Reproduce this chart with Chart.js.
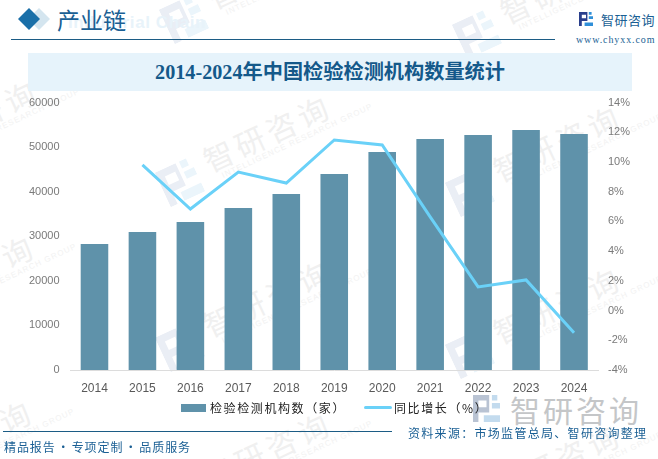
<!DOCTYPE html>
<html>
<head>
<meta charset="utf-8">
<script src="https://cdn.jsdelivr.net/npm/chart.js@4/dist/chart.umd.min.js"></script>
<style>
html, body { margin: 0; padding: 0; background: #fff; }
body { width: 658px; height: 459px; position: relative; overflow: hidden; font-family: "Noto Sans CJK SC", sans-serif; }
#myChart { position: absolute; left: 0; top: 0; }
.abs { position: absolute; white-space: nowrap; }
.wm { position: absolute; white-space: nowrap; color: #f0f0f0; font-size: 30px; letter-spacing: 4.6px; transform: rotate(-25deg); transform-origin: 15px 15px; line-height: 30px; }
.wm small { display: block; font-size: 8px; line-height: 12px; letter-spacing: 1.1px; font-family: "Liberation Sans"; margin-left: 10px; color: #f2f2f2; }
.wmlogo { position: absolute; width: 38px; height: 38px; transform: rotate(-25deg); }
#titleBar { left: 28px; top: 53px; width: 604px; height: 38px; background: #e6f3fb; }
#title { left: 28px; top: 53px; width: 604px; height: 38px; line-height: 39px; text-align: center; color: #14598a; font-size: 20.2px; font-weight: bold; font-family: "Liberation Serif", "Noto Sans CJK SC", serif; }
.legend { top: 399px; font-size: 12px; letter-spacing: 1.6px; color: #222; line-height: 17px; }
</style>
</head>
<body>
<div id="marks"></div>
<span class="abs" style="left:68px;top:13px;font:bold 17px 'Liberation Sans';color:#e8f3fa;letter-spacing:.6px">Industrial Chain</span>

<svg class="abs" style="left:18px;top:7px" width="34" height="24" viewBox="0 0 34 24">
  <path fill="#d4e5ef" d="M21 1l11 11-11 11-11-11z"/>
  <path fill="#1a6fa8" d="M11 1l11 11-11 11L0 12z"/>
</svg>
<span class="abs" style="left:57px;top:4px;font-size:23px;line-height:30px;color:#1a5f94">产业链</span>
<div class="abs" style="left:11px;top:39px;width:544px;height:1px;background:#1c5c85"></div>

<svg class="abs" style="left:579px;top:12px" width="14" height="14" viewBox="0 0 20 20"><path fill="#2a3f8c" d="M0 0h12v4H4v5h6v-5h2v9H4v7H0z"/><path fill="#2f8fd8" d="M14 0h4v4h-4zM14 6h6v4h-6zM8 15h12v5H8z"/></svg>
<span class="abs" style="left:601px;top:11px;font-size:13px;line-height:17px;letter-spacing:.5px;color:#1a5f94">智研咨询</span>
<span class="abs" style="left:576px;top:33px;font:10px/14px 'Liberation Serif';letter-spacing:.9px;color:#1a5f94">www.chyxx.com</span>

<div class="abs" id="titleBar"></div>
<div class="abs" id="title"></div>

<svg class="abs" style="left:473px;top:395px" width="27" height="27" viewBox="0 0 20 20"><path fill="#b9c3d3" d="M0 0h12v4H4v5h6v-5h2v9H4v7H0z"/><path fill="#c3dbee" d="M14 0h4v4h-4zM14 6h6v4h-6zM8 15h12v5H8z"/></svg>
<span class="abs" style="left:510px;top:390px;font-size:30px;line-height:38px;letter-spacing:3px;color:#c4c6c8">智研咨询</span>

<canvas id="myChart" width="658" height="459"></canvas>

<div class="abs legend" style="left:181px"><span style="display:inline-block;width:25px;height:8px;background:#5f92aa;margin-right:4px;vertical-align:1px"></span><span id="legendBar"></span></div>
<div class="abs legend" style="left:364px"><span style="display:inline-block;width:28px;height:3px;background:#6ad1f8;border-radius:2px;margin-right:2px;vertical-align:4px"></span><span id="legendLine"></span></div>

<div class="abs" style="left:3px;top:431px;width:389px;height:1px;background:#1c5c85"></div>
<span class="abs" style="left:4px;top:438px;font-size:12px;line-height:17px;letter-spacing:.9px;word-spacing:-2px;color:#1a5f94">精品报告 · 专项定制 · 品质服务</span>
<span class="abs" style="left:408px;top:424px;font-size:12px;line-height:17px;letter-spacing:1.3px;color:#1a5f94">资料来源：市场监管总局、智研咨询整理</span>

<script>
const chartTitle = '2014-2024年中国检验检测机构数量统计';
const years = ['2014', '2015', '2016', '2017', '2018', '2019', '2020', '2021', '2022', '2023', '2024'];
const institutions = [28260, 30950, 33200, 36340, 39480, 43960, 48900, 51810, 52710, 53830, 52930];
const growth = [null, 9.8, 6.83, 9.32, 8.58, 11.48, 11.14, 6.3, 1.59, 2.06, -1.49];
const barLabel = '检验检测机构数（家）';
const lineLabel = '同比增长（%）';

const barColor = '#5f92aa';
const lineColor = '#6ad1f8';
const tickColor = '#7a7a7a';
const xTickColor = '#595959';

document.getElementById('title').textContent = chartTitle;
document.getElementById('legendBar').textContent = barLabel;
document.getElementById('legendLine').textContent = lineLabel;

// background watermark, one entry per repeat of logo + text
const markSpots = [[222, -8], [218, 155], [218, 320], [218, 472], [515, 7], [508, 165], [508, 327], [508, 483], [-75, 140], [-78, 295], [-80, 460]];
let marksHtml = '';
markSpots.forEach(spot => {
    marksHtml += `<svg class="wmlogo" style="left:${spot[0] - 57}px;top:${spot[1] + 8}px" viewBox="0 0 20 20"><path fill="#eaeef5" d="M0 0h12v4H4v5h6v-5h2v9H4v7H0z"/><path fill="#ebf5fb" d="M14 0h4v4h-4zM14 6h6v4h-6zM8 15h12v5H8z"/></svg>`;
    marksHtml += `<div class="wm" style="left:${spot[0] - 15}px;top:${spot[1] - 15}px">智研咨询<small>INTELLIGENCE RESEARCH GROUP</small></div>`;
});
document.getElementById('marks').innerHTML = marksHtml;

const ctx = document.getElementById('myChart').getContext('2d');

const myChart = new Chart(ctx, {
    data: {
        labels: years,
        datasets: [{
            type: 'line',
            label: lineLabel,
            data: growth,
            yAxisID: 'y1',
            borderColor: lineColor,
            backgroundColor: lineColor,
            borderWidth: 3,
            pointRadius: 0,
            tension: 0,
            order: 1
        }, {
            type: 'bar',
            label: barLabel,
            data: institutions,
            yAxisID: 'y',
            backgroundColor: barColor,
            categoryPercentage: 1,
            barPercentage: 0.575,
            order: 2
        }]
    },
    options: {
        responsive: false,
        devicePixelRatio: 1,
        animation: false,
        layout: {
            padding: {top: 102.5, left: 0, right: 0, bottom: 59}
        },
        plugins: {
            legend: {display: false},
            tooltip: {enabled: false}
        },
        scales: {
            x: {
                grid: {display: false, drawTicks: false},
                border: {display: true, color: '#dcdcdc', width: 1},
                ticks: {color: xTickColor, font: {size: 12, family: 'Liberation Sans'}, padding: 11, maxRotation: 0},
                afterFit: (axis) => { axis.height = 30; }
            },
            y: {
                position: 'left',
                min: 0,
                max: 60000,
                grid: {display: false, drawTicks: false},
                border: {display: false},
                ticks: {
                    stepSize: 10000,
                    color: tickColor,
                    font: {size: 11, family: 'Liberation Sans'},
                    padding: 11,
                    callback: (value) => `${value}`
                },
                afterFit: (axis) => { axis.width = 70.5; }
            },
            y1: {
                position: 'right',
                min: -4,
                max: 14,
                grid: {display: false, drawTicks: false},
                border: {display: false},
                ticks: {
                    stepSize: 2,
                    color: tickColor,
                    font: {size: 11, family: 'Liberation Sans'},
                    padding: 10,
                    callback: (value) => `${value}%`
                },
                afterFit: (axis) => { axis.width = 60; }
            }
        }
    }
});
</script>
</body>
</html>
